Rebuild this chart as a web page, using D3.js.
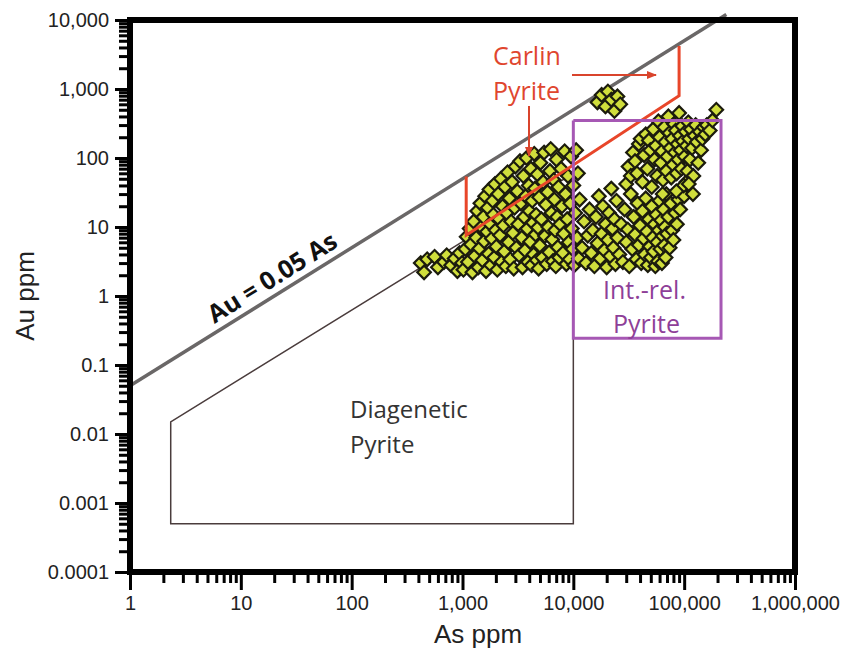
<!DOCTYPE html>
<html>
<head>
<meta charset="utf-8">
<script src="https://cdn.jsdelivr.net/npm/d3@7"></script>
<style>
  body { margin: 0; background: #fff; }
  svg { display: block; }
  .tick text { font-family: Arial, "Liberation Sans", sans-serif; font-size: 20px; fill: #222; }
  .note { font-family: "Open Sans", sans-serif; }
</style>
</head>
<body>
<svg id="chart" width="844" height="649"></svg>
<script>
// samples, [As ppm, Au ppm]
var tailSamples = [
    [420,3.0],[450,2.2],[480,3.4],[560,3.7],[600,2.6],[680,3.1],[720,3.9],[790,2.8],[850,3.5],[900,2.3],[940,4.2],[990,3.0]
];
var lowAsSamples = [
    [1020,2.4],[1060,4.8],[1090,7.2],[1120,3.1],[1160,9.5],[1190,5.6],[1230,2.2],[1260,12],[1290,3.8],[1330,7],
    [1360,17],[1390,2.6],[1420,4.9],[1450,22],[1480,10],[1510,3.3],[1540,14],[1570,6.2],[1600,28],[1630,2.3],
    [1660,8.5],[1690,19],[1720,4.1],[1750,35],[1780,11],[1810,2.8],[1840,6.8],[1870,24],[1900,15],[1930,3.6],
    [1960,42],[1990,9],[2020,5.2],[2060,2.4],[2100,30],[2140,13],[2180,7.6],[2220,50],[2260,3.1],[2300,20],
    [2340,10.5],[2380,4.4],[2420,38],[2460,2.7],[2500,16],[2550,62],[2600,6],[2650,26],[2700,3.4],[2750,12],
    [2800,45],[2850,8.2],[2900,2.5],[2950,19],[3000,75],[3060,5],[3120,33],[3180,11],[3240,3.9],[3300,90],
    [3360,22],[3420,7],[3480,2.6],[3540,55],[3600,14],[3660,4.6],[3720,28],[3780,100],[3840,9.4],[3900,3.1],
    [3960,40],[4020,17],[4080,6.1],[4140,70],[4200,2.8],[4260,24],[4320,11.5],[4380,4],[4440,115],[4500,36],
    [4560,7.8],[4620,15],[4680,3.3],[4740,58],[4800,9.8],[4860,2.5],[4920,27],[4980,5.4],[5050,85],[5150,13],
    [5250,3.6],[5350,45],[5450,120],[5550,7.4],[5650,21],[5750,2.9],[5850,32],[5950,10],[6050,4.3],[6150,65],
    [6250,135],[6350,16],[6450,6.6],[6550,3.2],[6650,48],[6750,25],[6850,9],[6950,2.7],[7050,95],[7150,14],
    [7250,5.1],[7350,38],[7450,3.6],[7600,11],[7750,70],[7900,20],[8050,4.2],[8200,8],[8350,125],[8500,30],
    [8650,2.9],[8800,13],[8950,55],[9100,6],[9250,3.4],[9400,22],[9550,105],[9700,9.5],[9850,4.8],[10000,40],
    [10200,2.8],[10400,16],[10600,130],[10800,7],[11000,60],[11200,3.5],[11400,25]
];
var highAuSamples = [
    [16500,640],[18000,820],[19500,560],[20500,920],[22000,700],[23500,480],[25000,780],[26500,600]
];
var midAsSamples = [
    [12000,5],[12500,12],[13000,3],[13500,7.5],[14000,18],[14500,4.2],[15000,9],[15500,2.7],[16000,14],[16500,5.8],
    [17000,28],[17500,3.5],[18000,8],[18500,20],[19000,4.6],[19500,11],[20000,2.6],[20500,6.5],[21000,16],[21500,3.8],
    [22000,36],[22500,9.5],[23000,5],[23500,13],[24000,2.9],[24500,24],[25000,7],[26000,4],[27000,11],[28000,3.1],
    [29000,18],[30000,6],[31000,9.2],[32000,2.7],[33000,30],[34000,4.8],[35000,14],[36000,7.8],[37000,3.4],[38000,22],
    [39000,5.5],[40000,10.5],[41000,3],[42000,17],[43000,6.8],[44000,4],[45000,26],[46000,8.6],[47000,2.8],[48000,13],
    [49000,5.2],[50000,3.6],[51000,20],[52000,7],[53000,4.4],[54000,11],[55000,2.7],[56000,15],[57000,6],[58000,3.2],
    [59000,9],[60000,24],[61000,4.8],[62000,12.5],[63000,3],[64000,7.4],[65000,18],[66000,5.4],[67000,10],[68000,3.6],
    [69000,30],[70000,8],[72000,14],[74000,5],[76000,22],[78000,9],[80000,6.5],[83000,16],[86000,11],[89000,25],
    [92000,18],[96000,35],[100000,28],[105000,45]
];
var highAsSamples = [
    [30000,42],[31500,75],[33000,55],[34500,120],[36000,90],[37500,60],[39000,160],[40500,190],[42000,45],[43500,110],
    [45000,220],[46500,70],[48000,180],[49500,130],[51000,38],[52500,260],[54000,95],[55500,150],[57000,55],[58500,340],
    [60000,200],[61500,85],[63000,125],[64500,48],[66000,280],[67500,170],[69000,65],[70500,105],[72000,400],[73500,230],
    [75000,140],[76500,52],[78000,190],[79500,80],[81000,310],[82500,120],[84000,250],[85500,60],[87000,160],[88500,95],
    [90000,450],[91500,210],[93000,130],[94500,70],[96000,290],[97500,175],[99000,40],[101000,105],[103000,240],[105000,150],
    [107000,65],[109000,330],[111000,190],[113000,95],[115000,260],[118000,140],[121000,55],[124000,210],[127000,300],[130000,170],
    [134000,85],[138000,240],[142000,130],[146000,190],[150000,280],[155000,220],[160000,300],[170000,250],[180000,350],[195000,500],
    [64000,30],[85000,33],[110000,42],[120000,30]
];

// field outlines, [As ppm, Au ppm]
var diageneticField = [[10000,60],[2.33,0.015],[2.33,0.0005],[10000,0.0005],[10000,60]];
var carlinField = [[1080,54],[1080,7.6],[90000,800],[90000,4200]];
var intrusionField = [[10000,350],[215000,350],[215000,0.245],[10000,0.245],[10000,350]];
var auAsRatio = 0.05;
var ratioLineAs = [1, 240000];

var xMajor = [1, 10, 100, 1000, 10000, 100000, 1000000];
var yMajor = [0.0001, 0.001, 0.01, 0.1, 1, 10, 100, 1000, 10000];
var tickFormat = ["1", "10", "100", "1,000", "10,000", "100,000", "1,000,000"];
var yTickFormat = ["0.0001", "0.001", "0.01", "0.1", "1", "10", "100", "1,000", "10,000"];

var svg = d3.select("#chart");
var x = d3.scaleLog().domain([1, 1e6]).range([130, 795]);
var y = d3.scaleLog().domain([1e-4, 1e4]).range([572, 20]);

function minorTicks(majors) {
    var out = [];
    for (var i = 0; i < majors.length - 1; i++) {
        for (var k = 2; k <= 9; k++) out.push(majors[i] * k);
    }
    return out;
}

// minor ticks
svg.append("g")
    .attr("transform", "translate(0,572)")
    .call(d3.axisBottom(x).tickValues(minorTicks(xMajor)).tickSize(11).tickFormat(""))
    .call(function(g) { g.select(".domain").remove(); });
svg.append("g")
    .attr("transform", "translate(130,0)")
    .call(d3.axisLeft(y).tickValues(minorTicks(yMajor)).tickSize(11).tickFormat(""))
    .call(function(g) { g.select(".domain").remove(); });

// major ticks
svg.append("g")
    .attr("transform", "translate(0,572)")
    .call(d3.axisBottom(x).tickValues(xMajor).tickSize(18).tickPadding(6)
        .tickFormat(function(d, i) { return tickFormat[i]; }))
    .call(function(g) { g.select(".domain").remove(); });
svg.append("g")
    .attr("transform", "translate(130,0)")
    .call(d3.axisLeft(y).tickValues(yMajor).tickSize(15).tickPadding(6)
        .tickFormat(function(d, i) { return yTickFormat[i]; }))
    .call(function(g) { g.select(".domain").remove(); });

svg.selectAll(".tick line").attr("stroke", "#000").attr("stroke-width", 3);

var line = d3.line().x(function(d) { return x(d[0]); }).y(function(d) { return y(d[1]); });

// diagenetic field
svg.append("path")
    .attr("d", line(diageneticField))
    .attr("fill", "none")
    .attr("stroke", "#4a3c3c")
    .attr("stroke-width", 1.5);

// Au = 0.05 As
svg.append("path")
    .attr("d", line(ratioLineAs.map(function(a) { return [a, a * auAsRatio]; })))
    .attr("stroke", "#6a6767")
    .attr("stroke-width", 3.5);

// samples
var allSamples = tailSamples.concat(lowAsSamples, highAuSamples, midAsSamples, highAsSamples);
svg.append("g").selectAll("path")
    .data(allSamples)
    .enter().append("path")
    .attr("d", d3.symbol().type(d3.symbolSquare).size(92))
    .attr("transform", function(d) { return "translate(" + x(d[0]) + "," + y(d[1]) + ") rotate(45)"; })
    .attr("fill", "#d0de3c")
    .attr("stroke", "#1c1c0e")
    .attr("stroke-width", 2.2);

// carlin field
svg.append("path")
    .attr("d", line(carlinField))
    .attr("fill", "none")
    .attr("stroke", "#e8462a")
    .attr("stroke-width", 3);

// intrusion-related field
svg.append("path")
    .attr("d", line(intrusionField))
    .attr("fill", "none")
    .attr("stroke", "#a658b4")
    .attr("stroke-width", 3);

// frame
svg.append("rect")
    .attr("x", 130).attr("y", 20)
    .attr("width", 665).attr("height", 552)
    .attr("fill", "none")
    .attr("stroke", "#000")
    .attr("stroke-width", 6);

// arrows
var defs = svg.append("defs");
defs.append("marker")
    .attr("id", "head")
    .attr("viewBox", "0 0 10 10")
    .attr("refX", 9).attr("refY", 5)
    .attr("markerWidth", 5).attr("markerHeight", 5)
    .attr("orient", "auto")
    .append("path").attr("d", "M0,1L10,5L0,9Z").attr("fill", "#d9442c");

svg.append("line").attr("x1", 572).attr("y1", 75).attr("x2", 656).attr("y2", 75)
    .attr("stroke", "#d9442c").attr("stroke-width", 2).attr("marker-end", "url(#head)");
svg.append("line").attr("x1", 529).attr("y1", 106).attr("x2", 529).attr("y2", 156)
    .attr("stroke", "#d9442c").attr("stroke-width", 2).attr("marker-end", "url(#head)");

// labels
function note(lines, px, py, color, size, gap) {
    var t = svg.append("text").attr("class", "note")
        .attr("fill", color).attr("font-size", size);
    lines.forEach(function(s, i) {
        t.append("tspan").attr("x", px[i]).attr("y", py + i * gap).text(s);
    });
}
note(["Carlin", "Pyrite"], [493, 493], 65, "#e0462e", 25, 35);
note(["Diagenetic", "Pyrite"], [350, 350], 418, "#333", 24, 35);
note(["Int.-rel.", "Pyrite"], [603, 613], 299, "#8e3f98", 25, 34);

svg.append("text")
    .attr("class", "note")
    .attr("transform", "translate(277,285) rotate(-32)")
    .attr("text-anchor", "middle")
    .attr("font-weight", "bold")
    .attr("font-size", 25)
    .attr("fill", "#111")
    .text("Au = 0.05 As");

// axis titles
svg.append("text")
    .attr("x", 478).attr("y", 643)
    .attr("text-anchor", "middle")
    .attr("font-family", "Arial, 'Liberation Sans', sans-serif")
    .attr("font-size", 26).attr("fill", "#222")
    .text("As ppm");
svg.append("text")
    .attr("transform", "translate(34,296) rotate(-90)")
    .attr("text-anchor", "middle")
    .attr("font-family", "Arial, 'Liberation Sans', sans-serif")
    .attr("font-size", 26).attr("fill", "#222")
    .text("Au ppm");
</script>
</body>
</html>
